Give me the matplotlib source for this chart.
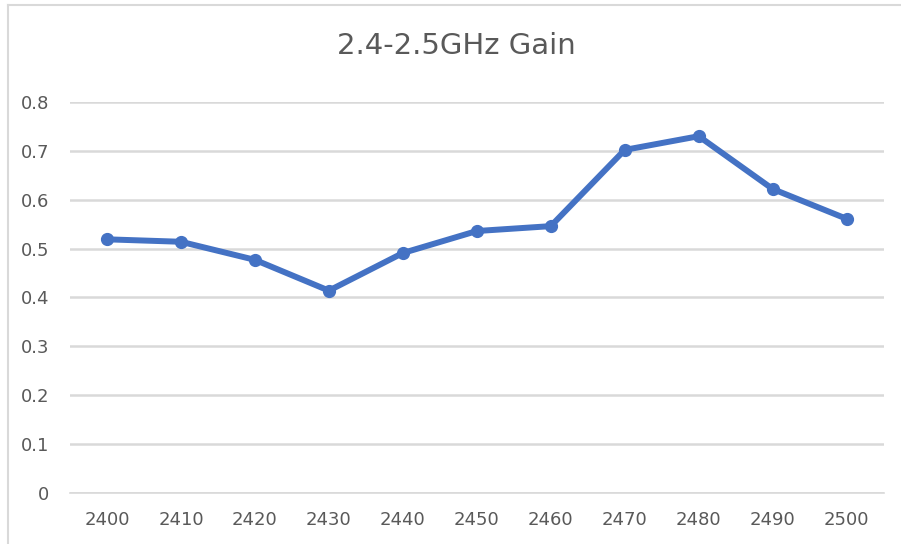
import matplotlib.pyplot as plt
from matplotlib.lines import Line2D

# frequency points (MHz) and measured gain
freqs = ["2400", "2410", "2420", "2430", "2440", "2450",
         "2460", "2470", "2480", "2490", "2500"]
gain = [0.519, 0.514, 0.477, 0.414, 0.491, 0.536,
        0.546, 0.702, 0.730, 0.622, 0.561]
yticks = [0, 0.1, 0.2, 0.3, 0.4, 0.5, 0.6, 0.7, 0.8]

blue = "#4472C4"
grey_txt = "#595959"
grid_col = "#D9D9D9"

fig = plt.figure(figsize=(9.01, 5.44), dpi=100)
fig.patch.set_facecolor("white")

# outer chart frame: only the left and top edges show in the original
fx, fy = 8 / 901, 1 - 5 / 544
fig.add_artist(Line2D([fx, fx], [0, fy], transform=fig.transFigure,
                      color=grid_col, linewidth=1.5))
fig.add_artist(Line2D([fx, 1], [fy, fy], transform=fig.transFigure,
                      color=grid_col, linewidth=1.5))

ax = fig.add_axes([0.0777, 0.0938, 0.903, 0.7187])
x = list(range(len(freqs)))
ax.plot(x, gain, color=blue, linewidth=4.3, marker="o", markersize=8.5,
        solid_capstyle="round", solid_joinstyle="round", zorder=3)

ax.set_xlim(-0.5, len(freqs) - 0.5)
ax.set_ylim(0, 0.8)
ax.set_yticks(yticks)
ax.set_yticklabels([f"{v:g}" for v in yticks])
ax.set_xticks(x)
ax.set_xticklabels(freqs)

ax.yaxis.grid(True, color=grid_col, linewidth=1.8)
ax.set_axisbelow(True)
for s in ["top", "right", "left"]:
    ax.spines[s].set_visible(False)
ax.spines["bottom"].set_color(grid_col)
ax.spines["bottom"].set_linewidth(1.2)

ax.tick_params(axis="both", length=0, labelsize=13, labelcolor=grey_txt)
ax.tick_params(axis="y", pad=15)
ax.tick_params(axis="x", pad=13)

fig.text(0.507, 0.915, "2.4-2.5GHz Gain", ha="center", va="center",
         fontsize=21, color=grey_txt)

fig.savefig("out.png", dpi=100)
